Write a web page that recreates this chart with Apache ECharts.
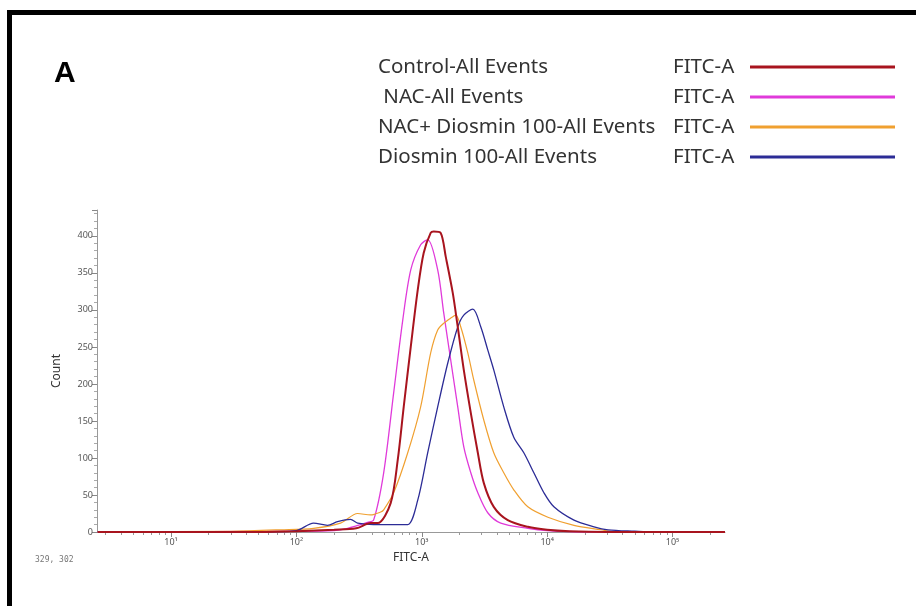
<!DOCTYPE html>
<html>
<head>
<meta charset="utf-8">
<script src="https://cdn.jsdelivr.net/npm/echarts@6/dist/echarts.min.js"></script>
<style>
  html, body { margin: 0; padding: 0; background: #fff; }
  #chart { width: 916px; height: 606px; }
</style>
</head>
<body>
<div id="chart"></div>
<script>
// ---- data (FITC-A value, count) ----
const seriesNames = ['Control-All Events', 'NAC-All Events', 'NAC+ Diosmin 100-All Events', 'Diosmin 100-All Events']
const legendLabels = ['Control-All Events', '\u00a0NAC-All Events', 'NAC+ Diosmin 100-All Events', 'Diosmin 100-All Events']
const channelName = 'FITC-A'

const control = [
  [2.6, 0], [50, 0], [100, 1], [200, 3], [300, 5], [391, 12], [445, 12], [565, 39], [643, 97],
  [718, 169], [817, 250], [929, 327], [1036, 377], [1178, 404], [1245, 406], [1416, 404],
  [1553, 372], [1767, 323], [1937, 277], [2164, 219], [2461, 161], [2800, 107], [3127, 66],
  [3752, 34], [4853, 16], [7015, 7], [10000, 3], [15000, 1], [30000, 0], [262144, 0]
]
const nac = [
  [2.6, 0], [100, 1], [200, 2], [256, 5], [370, 13], [413, 16], [497, 80], [597, 188],
  [705, 286], [817, 354], [980, 388], [1115, 395], [1340, 354], [1497, 296], [1703, 232],
  [1937, 169], [2164, 115], [2461, 80], [2800, 53], [3360, 26], [4266, 12], [7015, 5],
  [10000, 2], [20000, 0], [262144, 0]
]
const nacDiosmin = [
  [2.6, 0], [30, 1], [75, 3], [137, 5], [225, 12], [308, 25], [391, 23], [470, 27], [497, 30],
  [597, 53], [773, 107], [980, 169], [1178, 242], [1340, 273], [1497, 282], [1703, 289],
  [1868, 293], [2048, 277], [2329, 242], [2602, 205], [3127, 151], [3752, 107], [4508, 80],
  [5420, 57], [7015, 34], [10140, 20], [16370, 9], [26900, 3], [35000, 0], [262144, 0]
]
const diosmin = [
  [2.6, 0], [50, 0], [100, 2], [137, 12], [177, 9], [213, 14], [270, 17], [308, 12], [413, 10],
  [600, 10], [773, 10], [929, 43], [1115, 107], [1340, 169], [1611, 228], [1937, 277],
  [2164, 293], [2553, 301], [2959, 277], [3360, 246], [3752, 219], [4508, 169], [5420, 128],
  [6516, 107], [7834, 80], [9420, 53], [11320, 34], [16370, 16], [23650, 7], [30600, 3],
  [50000, 1], [70000, 0], [262144, 0]
]

const xMajorTicks = [10, 100, 1000, 10000, 100000]
const xTickLabels = ['10\u00b9', '10\u00b2', '10\u00b3', '10\u2074', '10\u2075']
const xMin = 2.57
const xMax = 262144

// minor ticks 2..9 in each decade
const xMinorTicks = []
for (let d = 1; d <= 100000; d *= 10) {
  for (let m = 2; m <= 9; m++) {
    const v = d * m
    if (v > xMin && v < xMax) xMinorTicks.push(v)
  }
}

const colors = ['#a8141e', '#e03ada', '#f0a030', '#2c2c96']
const widths = [2, 1.3, 1.2, 1.3]
const allData = [control, nac, nacDiosmin, diosmin]

const chart = echarts.init(document.getElementById('chart'))

const series = allData.map((d, i) => ({
  name: seriesNames[i],
  type: 'line',
  data: d,
  showSymbol: false,
  smooth: 0.3,
  color: colors[i],
  lineStyle: { color: colors[i], width: widths[i] },
  z: i === 0 ? 5 : 3
}))

const legendFont = { fontFamily: 'Noto Sans', fontSize: 20.5, color: '#333' }

const option = {
  animation: false,
  grid: { left: 97, right: 191, top: 210, bottom: 74 },
  legend: {
    orient: 'vertical',
    left: 373,
    top: 48,
    align: 'right',
    icon: 'rect',
    itemWidth: 145,
    itemHeight: 3,
    itemGap: 2,
    data: seriesNames,
    formatter: (name) => {
      const i = seriesNames.indexOf(name)
      return `{n|${legendLabels[i]}}{f|${channelName}}`
    },
    textStyle: {
      ...legendFont,
      lineHeight: 28,
      rich: {
        n: { ...legendFont, width: 295, align: 'left', lineHeight: 28 },
        f: { ...legendFont, width: 72, align: 'left', lineHeight: 28 }
      }
    }
  },
  xAxis: [{
    type: 'log',
    logBase: 10,
    min: xMin,
    max: xMax,
    name: channelName,
    nameLocation: 'middle',
    nameGap: 18,
    nameTextStyle: { fontFamily: 'Noto Sans', fontSize: 12, color: '#333' },
    axisLine: { lineStyle: { color: '#999', width: 1 } },
    axisTick: { customValues: xMajorTicks, length: 5, lineStyle: { color: '#888' } },
    axisLabel: {
      customValues: xMajorTicks,
      formatter: (v) => xTickLabels[xMajorTicks.indexOf(Math.round(v))] || '',
      fontFamily: 'Noto Sans', fontSize: 9, color: '#555', margin: 6
    },
    splitLine: { show: false }
  }, {
    type: 'log',
    logBase: 10,
    min: xMin,
    max: xMax,
    position: 'bottom',
    axisLine: { show: false },
    axisTick: { customValues: xMinorTicks, length: 3, lineStyle: { color: '#999' } },
    axisLabel: { show: false },
    splitLine: { show: false }
  }],
  yAxis: {
    type: 'value',
    min: 0,
    max: 435,
    interval: 50,
    name: 'Count',
    nameLocation: 'middle',
    nameGap: 34,
    nameTextStyle: { fontFamily: 'Noto Sans', fontSize: 12, color: '#333' },
    axisLine: { show: true, lineStyle: { color: '#999' } },
    axisTick: { show: true, length: 5, lineStyle: { color: '#888' } },
    minorTick: { show: true, splitNumber: 5, length: 3, lineStyle: { color: '#aaa' } },
    axisLabel: {
      formatter: (v) => (v % 50 === 0 ? String(v) : ''),
      fontFamily: 'Noto Sans', fontSize: 9, color: '#555', margin: 4
    },
    splitLine: { show: false }
  },
  graphic: [
    { type: 'rect', shape: { x: 7, y: 10, width: 909, height: 5 }, style: { fill: '#000' } },
    { type: 'rect', shape: { x: 7, y: 10, width: 5, height: 596 }, style: { fill: '#000' } },
    {
      type: 'text', left: 54, top: 59,
      style: { text: 'A', font: 'bold 30px "Liberation Sans", Arial', fill: '#000' }
    },
    {
      type: 'text', left: 35, top: 556,
      style: { text: '329, 302', font: '8px "DejaVu Sans Mono", monospace', fill: '#777' }
    }
  ],
  series: series
}

chart.setOption(option)
</script>
</body>
</html>
